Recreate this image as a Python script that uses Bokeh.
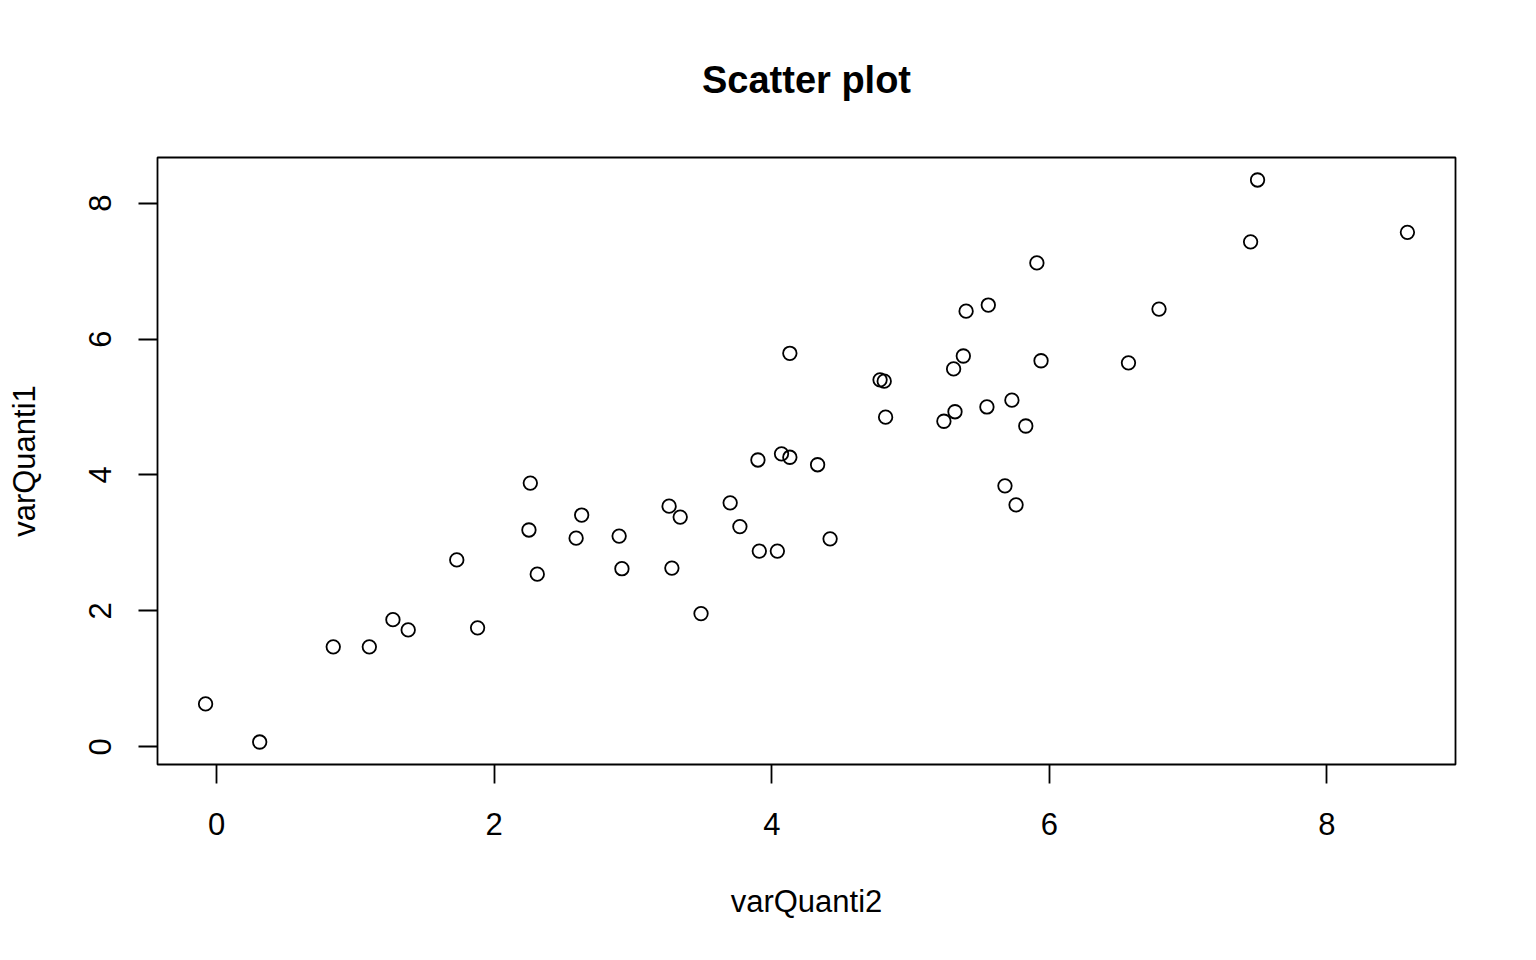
import math
from bokeh.plotting import figure
from bokeh.models import Range1d, FixedTicker
from bokeh.embed import file_html
from bokeh.resources import INLINE

# Data
varQuanti2 = [-0.08, 0.31, 0.84, 1.10, 1.27, 1.38, 1.73, 1.88, 2.26, 2.25,
              2.31, 2.59, 2.63, 2.90, 2.92, 3.26, 3.28, 3.34, 3.49, 3.70,
              3.77, 3.91, 4.04, 3.90, 4.07, 4.13, 4.13, 4.33, 4.42, 4.78,
              4.81, 4.82, 5.24, 5.31, 5.32, 5.38, 5.40, 5.56, 5.55, 5.68,
              5.73, 5.76, 5.83, 5.91, 5.94, 6.57, 6.79, 7.45, 7.50, 8.58]
varQuanti1 = [0.63, 0.07, 1.47, 1.47, 1.87, 1.72, 2.75, 1.75, 3.88, 3.19,
              2.54, 3.07, 3.41, 3.10, 2.62, 3.54, 2.63, 3.38, 1.96, 3.59,
              3.24, 2.88, 2.88, 4.22, 4.31, 4.26, 5.79, 4.15, 3.06, 5.40,
              5.38, 4.85, 4.79, 5.56, 4.93, 5.75, 6.41, 6.50, 5.00, 3.84,
              5.10, 3.56, 4.72, 7.12, 5.68, 5.65, 6.44, 7.43, 8.34, 7.57]
x_ticks = [0, 2, 4, 6, 8]
y_ticks = [0, 2, 4, 6, 8]
title_text = "Scatter plot"
x_label = "varQuanti2"
y_label = "varQuanti1"

FONT = "Liberation Sans"

def padded(vals, frac=0.04):
    lo, hi = min(vals), max(vals)
    d = (hi - lo) * frac
    return lo - d, hi + d

x0, x1 = padded(varQuanti2)
y0, y1 = padded(varQuanti1)

p = figure(width=1520, height=944, output_backend="svg", toolbar_location=None,
           x_range=Range1d(x0, x1), y_range=Range1d(y0, y1),
           min_border_left=157, min_border_right=65,
           min_border_top=157, min_border_bottom=180,
           background_fill_color="white", border_fill_color="white")

p.title.text = title_text
p.title.align = "center"
p.title.text_font = FONT
p.title.text_font_size = "38px"
p.title.text_font_style = "bold"
p.title.text_color = "black"
p.title.standoff = 113

p.outline_line_color = "black"
p.outline_line_width = 1.8
p.grid.visible = False

for ax, ticks in ((p.xaxis[0], x_ticks), (p.yaxis[0], y_ticks)):
    ax.ticker = FixedTicker(ticks=ticks)
    ax.minor_tick_line_color = None
    ax.axis_line_color = None
    ax.major_tick_in = 0
    ax.major_tick_out = 19
    ax.major_tick_line_color = "black"
    ax.major_tick_line_width = 1.8
    ax.major_label_text_font = FONT
    ax.major_label_text_font_size = "31px"
    ax.major_label_text_color = "black"
    ax.axis_label_text_font = FONT
    ax.axis_label_text_font_size = "31px"
    ax.axis_label_text_font_style = "normal"
    ax.axis_label_text_color = "black"

p.xaxis.axis_label = x_label
p.yaxis.axis_label = y_label
p.yaxis.major_label_orientation = "vertical"
p.xaxis.major_label_standoff = 29
p.yaxis.major_label_standoff = 27
p.xaxis.axis_label_standoff = 46
p.yaxis.axis_label_standoff = 45

p.scatter(varQuanti2, varQuanti1, marker="circle", size=13.5,
          fill_color=None, line_color="black", line_width=1.8)

open("out.html", "w").write(file_html(p, INLINE))
